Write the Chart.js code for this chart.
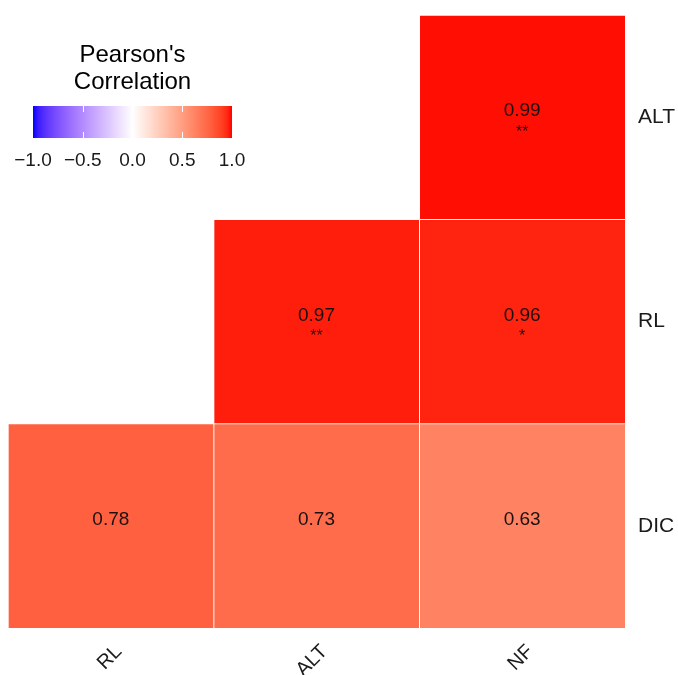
<!DOCTYPE html>
<html>
<head>
<meta charset="utf-8">
<script src="https://cdn.jsdelivr.net/npm/chart.js@4.4.1/dist/chart.umd.min.js"></script>
<style>
  html, body { margin: 0; padding: 0; background: #fff; }
  canvas { display: block; }
</style>
</head>
<body>
<canvas id="corr" width="678" height="675"></canvas>
<script>
const colVars = ['RL', 'ALT', 'NF'];
const rowVars = ['DIC', 'RL', 'ALT'];          // bottom to top

// correlations, one array per row (bottom to top); null = upper triangle left blank
const rowDIC = [0.78, 0.73, 0.63];
const rowRL  = [null, 0.97, 0.96];
const rowALT = [null, null, 0.99];

// significance marks for the same cells
const sigDIC = ['', '', ''];
const sigRL  = ['', '**', '*'];
const sigALT = ['', '', '**'];

const legendTicks = [-1, -0.5, 0, 0.5, 1];

const rows = [rowDIC, rowRL, rowALT];
const sigs = [sigDIC, sigRL, sigALT];

// blue - white - red scale, interpolated in CIELAB like ggplot's gradient2
function toLab(rgb) {
  const lin = rgb.map(c => { c /= 255; return c <= 0.04045 ? c / 12.92 : Math.pow((c + 0.055) / 1.055, 2.4); });
  const X = (0.4124 * lin[0] + 0.3576 * lin[1] + 0.1805 * lin[2]) / 0.95047;
  const Y = (0.2126 * lin[0] + 0.7152 * lin[1] + 0.0722 * lin[2]);
  const Z = (0.0193 * lin[0] + 0.1192 * lin[1] + 0.9505 * lin[2]) / 1.08883;
  const f = t => t > 0.008856 ? Math.cbrt(t) : 7.787 * t + 16 / 116;
  return [116 * f(Y) - 16, 500 * (f(X) - f(Y)), 200 * (f(Y) - f(Z))];
}
function fromLab(lab) {
  const fy = (lab[0] + 16) / 116, fx = fy + lab[1] / 500, fz = fy - lab[2] / 200;
  const inv = t => t > 0.206893 ? t * t * t : (t - 16 / 116) / 7.787;
  const X = inv(fx) * 0.95047, Y = inv(fy), Z = inv(fz) * 1.08883;
  const lin = [
    3.2406 * X - 1.5372 * Y - 0.4986 * Z,
    -0.9689 * X + 1.8758 * Y + 0.0415 * Z,
    0.0557 * X - 0.2040 * Y + 1.0570 * Z
  ];
  return lin.map(c => {
    c = Math.min(1, Math.max(0, c));
    c = c <= 0.0031308 ? 12.92 * c : 1.055 * Math.pow(c, 1 / 2.4) - 0.055;
    return Math.round(c * 255);
  });
}
const labLow = toLab([0, 0, 255]), labMid = toLab([255, 255, 255]), labHigh = toLab([255, 0, 0]);
function corrColor(v) {
  const end = v < 0 ? labLow : labHigh, t = Math.abs(v);
  const lab = labMid.map((m, i) => m + (end[i] - m) * t);
  const c = fromLab(lab);
  return `rgb(${c[0]},${c[1]},${c[2]})`;
}

const datasets = rows.map((vals, r) => ({
  label: rowVars[r],
  data: vals.map(v => v === null ? null : [r, r + 1]),
  values: vals,
  stars: sigs[r],
  backgroundColor: vals.map(v => v === null ? 'rgba(0,0,0,0)' : corrColor(v)),
  borderColor: '#ffffff',
  borderWidth: { top: 1, left: 1, right: 0, bottom: 0 },
  borderSkipped: false,
  grouped: false,
  categoryPercentage: 1,
  barPercentage: 1
}));

const cellText = {
  id: 'cellText',
  afterDatasetsDraw(chart) {
    const ctx = chart.ctx;
    ctx.save();
    ctx.fillStyle = '#1c1010';
    ctx.textAlign = 'center';
    ctx.textBaseline = 'middle';
    ctx.font = '19px "Liberation Sans", Arial, sans-serif';
    chart.data.datasets.forEach((ds, i) => {
      chart.getDatasetMeta(i).data.forEach((bar, j) => {
        const v = ds.values[j];
        if (v === null) return;
        const cy = (bar.y + bar.base) / 2;
        ctx.fillText(v.toFixed(2), bar.x, cy - 6);
        if (ds.stars[j]) {
          ctx.font = '16px "Liberation Sans", Arial, sans-serif';
          ctx.fillText(ds.stars[j], bar.x, cy + 15);
          ctx.font = '19px "Liberation Sans", Arial, sans-serif';
        }
      });
    });
    ctx.restore();
  }
};

const colourBar = {
  id: 'colourBar',
  afterDraw(chart) {
    const ctx = chart.ctx;
    const x0 = 33, x1 = 232, y0 = 106, y1 = 138;
    ctx.save();
    const g = ctx.createLinearGradient(x0, 0, x1, 0);
    for (let k = 0; k <= 40; k++) {
      const v = -1 + k / 20;
      g.addColorStop(k / 40, corrColor(v));
    }
    ctx.fillStyle = g;
    ctx.fillRect(x0, y0, x1 - x0, y1 - y0);

    const px = v => x0 + (v + 1) / 2 * (x1 - x0);
    ctx.strokeStyle = '#ffffff';
    ctx.lineWidth = 1;
    legendTicks.forEach(v => {
      if (Math.abs(v) === 1) return;
      const x = Math.round(px(v)) + 0.5;
      ctx.beginPath();
      ctx.moveTo(x, y0); ctx.lineTo(x, y0 + 6);
      ctx.moveTo(x, y1 - 6); ctx.lineTo(x, y1);
      ctx.stroke();
    });

    ctx.fillStyle = '#1a1a1a';
    ctx.textAlign = 'center';
    ctx.textBaseline = 'middle';
    ctx.font = '19px "Liberation Sans", Arial, sans-serif';
    legendTicks.forEach(v => {
      ctx.fillText(v.toFixed(1).replace('-', '\u2212'), px(v), 161);
    });

    ctx.fillStyle = '#000';
    ctx.textBaseline = 'alphabetic';
    ctx.font = '24px "Liberation Sans", Arial, sans-serif';
    ctx.fillText("Pearson's", (x0 + x1) / 2, 62);
    ctx.fillText('Correlation', (x0 + x1) / 2, 89);
    ctx.restore();
  }
};

new Chart(document.getElementById('corr'), {
  type: 'bar',
  data: { labels: colVars, datasets },
  options: {
    responsive: false,
    animation: false,
    layout: { padding: { left: 8, top: 15, right: 0, bottom: 0 } },
    plugins: { legend: { display: false }, tooltip: { enabled: false } },
    scales: {
      x: {
        type: 'category',
        grid: { display: false, drawTicks: false },
        border: { display: false },
        ticks: {
          minRotation: 45, maxRotation: 45,
          padding: 12, labelOffset: 8,
          color: '#1a1a1a',
          font: { family: '"Liberation Sans", Arial, sans-serif', size: 20 }
        },
        afterFit(scale) {
          scale.height = 47;
          scale.paddingLeft = 0; scale.paddingRight = 0;
        }
      },
      y: {
        type: 'linear',
        position: 'right',
        min: 0, max: 3,
        grid: { display: false, drawTicks: false },
        border: { display: false },
        afterBuildTicks(scale) {
          scale.ticks = rowVars.map((_, i) => ({ value: i + 0.5 }));
        },
        ticks: {
          padding: 13,
          color: '#1a1a1a',
          font: { family: '"Liberation Sans", Arial, sans-serif', size: 21 },
          callback: v => rowVars[Math.floor(v)]
        },
        afterFit(scale) {
          scale.width = 53;
          // labels sit at row centres, so no room is needed above or below
          scale.paddingTop = 0; scale.paddingBottom = 0;
        }
      }
    }
  },
  plugins: [cellText, colourBar]
});
</script>
</body>
</html>
